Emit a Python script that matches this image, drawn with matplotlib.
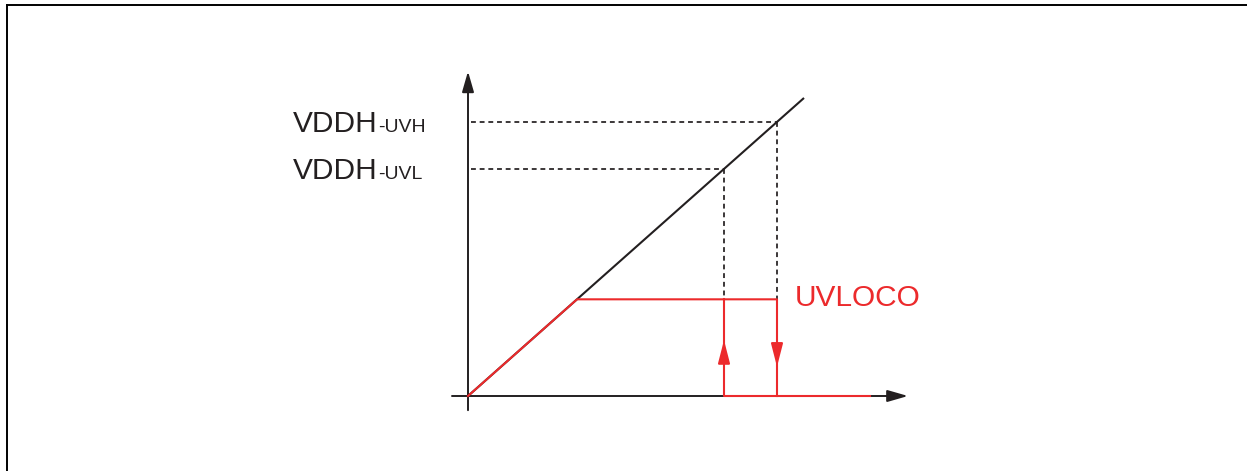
import matplotlib
matplotlib.use("Agg")
from matplotlib import pyplot as plt
from matplotlib.lines import Line2D

# schematic values (arbitrary units, diagonal VDDH = input)
vddh_x = [0, 3.36]
vddh_y = [0, 3.36]
uvl = 2.56          # VDDH-UVL threshold
uvh = 3.09          # VDDH-UVH threshold
uvloco_high = 1.09  # UVLOCO output level
x_stop = 4.02       # end of UVLOCO trace
labels = ["VDDH", "VDDH"]
subs = ["-UVH", "-UVL"]
thresholds = [uvh, uvl]

# red trace: rising part + plateau + falling edge, and the low branch with the rising edge
red_up_x = [0, uvloco_high, uvh, uvh]
red_up_y = [0, uvloco_high, uvloco_high, 0]
red_low_x = [x_stop, uvl, uvl]
red_low_y = [0, 0, uvloco_high]

black = "#231f20"
red = "#ec2a2c"
fs = 21.5

fig = plt.figure(figsize=(12.47, 4.71), dpi=100)
ax = fig.add_axes([0, 0, 1, 1])
ax.set_xlim(-4.68, 7.79)
ax.set_ylim(-75 / 88.7, 396 / 88.7)
ax.axis("off")

# frame (top and left only)
fig.add_artist(Line2D([7 / 1247, 1], [1 - 5 / 471, 1 - 5 / 471], color="black", lw=1.4,
                      transform=fig.transFigure))
fig.add_artist(Line2D([7 / 1247, 7 / 1247], [0, 1 - 5 / 471], color="black", lw=1.4,
                      transform=fig.transFigure))

# axes with arrows
ap = dict(arrowstyle="-|>,head_length=1.25,head_width=0.36", color=black, lw=1.4,
          shrinkA=0, shrinkB=0, mutation_scale=10)
ax.annotate("", xy=(0, 3.66), xytext=(0, -0.16), arrowprops=ap, zorder=1)
ax.annotate("", xy=(4.40, 0), xytext=(-0.16, 0), arrowprops=ap, zorder=1)

# dashed threshold guides
dash = (0, (2.8, 2.2))
for t in thresholds:
    ax.plot([0.03, t], [t, t], color=black, lw=1.25, ls=dash, zorder=2)
    ax.plot([t, t], [t, 0], color=black, lw=1.25, ls=dash, zorder=2)

# VDDH diagonal
ax.plot(vddh_x, vddh_y, color=black, lw=1.5, solid_capstyle="butt", zorder=3)

# UVLOCO red trace
ax.plot(red_up_x, red_up_y, color=red, lw=1.5, zorder=4)
ax.plot(red_low_x, red_low_y, color=red, lw=1.5, zorder=4)
rp = dict(arrowstyle="-|>,head_length=1.4,head_width=0.36", color=red, lw=1.5,
          shrinkA=0, shrinkB=0, mutation_scale=10)
ax.annotate("", xy=(uvl, 0.63), xytext=(uvl, 0.40), arrowprops=rp, zorder=5)
ax.annotate("", xy=(uvh, 0.33), xytext=(uvh, 0.60), arrowprops=rp, zorder=5)

# labels
for lab, sub, t in zip(labels, subs, thresholds):
    ax.text(-0.90, t - 0.113, lab, ha="right", va="baseline", fontsize=fs,
            family="Liberation Sans", color=black)
    ax.text(-0.90, t - 0.113, sub, ha="left", va="baseline", fontsize=14,
            family="Liberation Sans", color=black)
ax.text(3.27, uvloco_high - 0.075, "UVLOCO", ha="left", va="baseline", fontsize=fs,
        family="Liberation Sans", color=red)

fig.savefig("out.png", dpi=100)
